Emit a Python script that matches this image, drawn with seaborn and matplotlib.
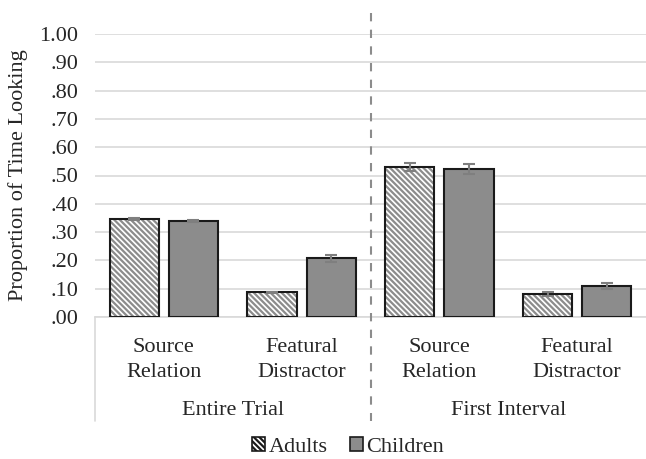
import matplotlib
matplotlib.use("Agg")
import matplotlib.pyplot as plt
import matplotlib.transforms as mtransforms
from matplotlib.patches import Rectangle, Patch
import seaborn as sns
import pandas as pd

# Data
measures = ["Entire Trial", "Entire Trial", "First Interval", "First Interval"]
targets = ["Source\nRelation", "Featural\nDistractor", "Source\nRelation", "Featural\nDistractor"]
adults = [0.345, 0.088, 0.530, 0.081]
adults_se = [0.004, 0.002, 0.014, 0.006]
children = [0.339, 0.208, 0.523, 0.110]
children_se = [0.005, 0.012, 0.017, 0.010]
groups = ["Adults", "Children"]
group_labels = ["Entire Trial", "First Interval"]
ytick_labels = [".00", ".10", ".20", ".30", ".40", ".50", ".60", ".70", ".80", ".90", "1.00"]

sns.set_theme(style="white")
plt.rcParams["font.family"] = ["Liberation Serif", "DejaVu Serif"]
plt.rcParams["hatch.linewidth"] = 1.6

FS = 16

cats = [f"{m}|{t}" for m, t in zip(measures, targets)]
df = pd.DataFrame({
    "cat": cats * 2,
    "group": [groups[0]] * 4 + [groups[1]] * 4,
    "value": adults + children,
    "se": adults_se + children_se,
})

fig = plt.figure(figsize=(6.46, 4.59), dpi=100)
ax = fig.add_axes([95 / 646, 1 - 317 / 459, 551 / 646, 283 / 459])

grey = "#8c8c8c"
hatch = "\\" * 6
sns.barplot(data=df, x="cat", y="value", hue="group", order=cats,
            hue_order=groups, palette=["white", grey], width=0.86, gap=0.17,
            errorbar=None, edgecolor="#1a1a1a", linewidth=1.5,
            legend=False, ax=ax, zorder=3)

bars = list(ax.patches)
adult_bars = bars[:4]
child_bars = bars[4:8]

# Hatched fill for adults, with a crisp black outline on top
for p in adult_bars:
    p.set_facecolor("white")
    p.set_edgecolor(grey)
    p.set_hatch(hatch)
    p.set_linewidth(0)
    ax.add_patch(Rectangle(p.get_xy(), p.get_width(), p.get_height(),
                           fill=False, ec="#1a1a1a", lw=1.5, zorder=4))

# Error bars
for bset, se in ((adult_bars, adults_se), (child_bars, children_se)):
    xs = [p.get_x() + p.get_width() / 2 for p in bset]
    ys = [p.get_height() for p in bset]
    ax.errorbar(xs, ys, yerr=se, fmt="none", ecolor="#7f7f7f",
                elinewidth=1.5, capsize=4, capthick=1.5, zorder=5)

ax.set_xlim(-0.5, 3.5)
ax.set_ylim(0, 1.0)
ax.set_yticks([i / 10 for i in range(11)])
ax.set_yticklabels(ytick_labels, fontsize=FS)
ax.set_xticks(range(4))
ax.set_xticklabels(targets, fontsize=FS, linespacing=1.45)
ax.tick_params(axis="y", length=0, pad=12)
ax.tick_params(axis="x", length=0, pad=15)
ax.set_xlabel("")
ax.set_ylabel("Proportion of Time Looking", fontsize=FS, labelpad=8)
ax.yaxis.grid(True, color="#d9d9d9", lw=1.2, zorder=0)
ax.set_axisbelow(True)
for s in ["top", "right", "left"]:
    ax.spines[s].set_visible(False)
ax.spines["bottom"].set_color("#d9d9d9")
ax.spines["bottom"].set_linewidth(1.2)

# Group labels and separators below the axis
trans = mtransforms.blended_transform_factory(ax.transData, ax.transAxes)
for i, g in enumerate(group_labels):
    ax.text(0.5 + 2 * i, -0.332, g, transform=trans, ha="center", va="center",
            fontsize=FS)
ax.plot([-0.5, -0.5], [0, -0.367], transform=trans, color="#d9d9d9",
        lw=1.2, clip_on=False)
ax.plot([1.5, 1.5], [1.075, -0.367], transform=trans, color="#8c8c8c",
        lw=1.5, ls=(0, (4, 4)), clip_on=False, zorder=6)

# Legend
handles = [Patch(facecolor="white", edgecolor="#1a1a1a", hatch=hatch, lw=1.2),
           Patch(facecolor=grey, edgecolor="#1a1a1a", lw=1.2)]
fig.legend(handles, groups, loc="center",
           bbox_to_anchor=(348 / 646, 1 - 447 / 459), ncol=2,
           frameon=False, fontsize=FS, handlelength=0.6,
           handleheight=0.6, handletextpad=0.15, columnspacing=1.0)

fig.savefig("out.png", dpi=100)
